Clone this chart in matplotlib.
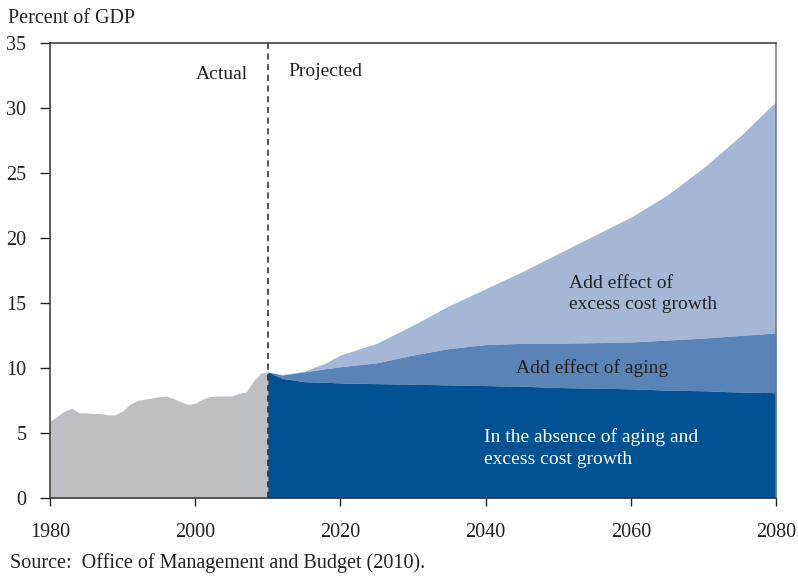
import numpy as np
import matplotlib.pyplot as plt

plt.rcParams['font.family'] = ['Liberation Serif', 'DejaVu Serif']

# Actual, percent of GDP
hist_years = np.arange(1980, 2011)
hist_vals = [5.9, 6.3, 6.7, 6.9, 6.55, 6.55, 6.5, 6.5, 6.4, 6.4,
             6.7, 7.2, 7.5, 7.6, 7.7, 7.8, 7.85, 7.65, 7.4, 7.2,
             7.3, 7.6, 7.8, 7.85, 7.85, 7.85, 8.05, 8.15, 9.0, 9.6, 9.7]

# Projected
proj_years = [2010, 2012, 2015, 2018, 2020, 2025, 2030, 2035, 2040,
              2045, 2050, 2055, 2060, 2065, 2070, 2075, 2080]
base = [9.7, 9.2, 8.95, 8.9, 8.85, 8.8, 8.75, 8.7, 8.65,
        8.6, 8.5, 8.45, 8.4, 8.3, 8.25, 8.15, 8.1]
with_aging = [9.7, 9.45, 9.7, 9.95, 10.1, 10.4, 11.0, 11.5, 11.8,
              11.9, 11.9, 11.95, 12.0, 12.15, 12.3, 12.5, 12.7]
with_excess = [9.7, 9.5, 9.75, 10.4, 11.0, 11.9, 13.3, 14.8, 16.1,
               17.4, 18.8, 20.2, 21.6, 23.3, 25.4, 27.8, 30.5]

fig = plt.figure(figsize=(7.98, 5.76), dpi=100)
ax = fig.add_axes([0.0627, 0.1354, 0.9097, 0.7899])

ax.fill_between(hist_years, 0, hist_vals, color='#BEBFC3', lw=0)
ax.fill_between(proj_years, with_aging, with_excess, color='#A4B7D7', lw=0)
ax.fill_between(proj_years, base, with_aging, color='#5B84B6', lw=0)
ax.fill_between(proj_years, 0, base, color='#005293', lw=0)

ax.axvline(2010, color='#222222', lw=1.1, ls=(0, (4, 3)))

ax.set_xlim(1980, 2080)
ax.set_ylim(0, 35)
ax.set_xticks(range(1980, 2081, 20))
ax.set_yticks(range(0, 36, 5))
ax.tick_params(axis='x', direction='out', length=6, width=1, pad=12,
               labelsize=14.5, colors='#222222')
ax.tick_params(axis='y', direction='out', length=7, width=1, pad=10,
               labelsize=14.5, colors='#222222')
for s in ax.spines.values():
    s.set_color('#333333')
    s.set_linewidth(1.1)
ax.spines['right'].set_color('#777777')

fs = 14
ax.text(2007.3, 32.6, 'Actual', ha='right', va='center', fontsize=fs, color='#222222')
ax.text(2012.8, 32.8, 'Projected', ha='left', va='center', fontsize=fs, color='#222222')
ax.text(2051.5, 15.7, 'Add effect of\nexcess cost growth', ha='left', va='center',
        fontsize=fs, color='#222222', linespacing=1.3)
ax.text(2044.2, 10.0, 'Add effect of aging', ha='left', va='center',
        fontsize=fs, color='#222222')
ax.text(2039.8, 3.85, 'In the absence of aging and\nexcess cost growth', ha='left',
        va='center', fontsize=fs, color='white', linespacing=1.35)

fig.text(0.01, 0.968, 'Percent of GDP', ha='left', va='center', fontsize=14.5,
         color='#222222')
fig.text(0.013, 0.022, 'Source:  Office of Management and Budget (2010).',
         ha='left', va='center', fontsize=14.5, color='#222222')

fig.savefig('out.png', dpi=100)
